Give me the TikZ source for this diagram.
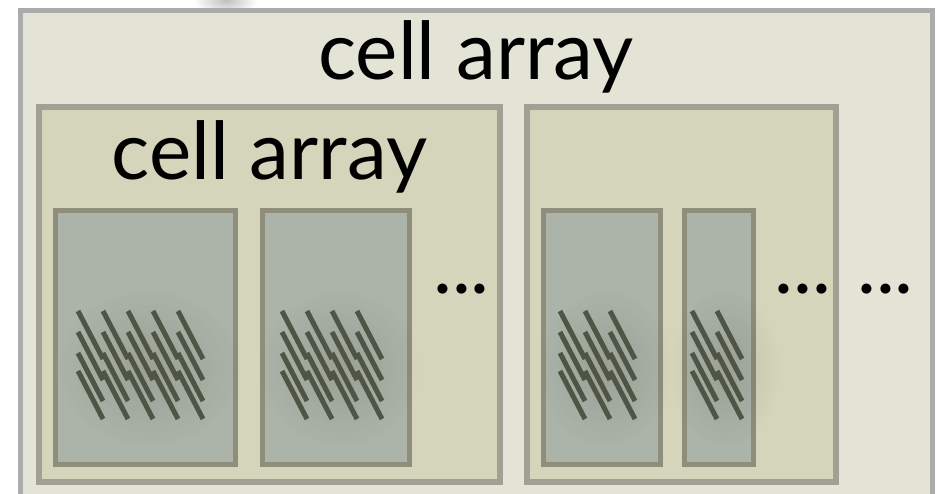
\documentclass[tikz,border=0pt]{standalone}
\usepackage{fontspec}
\setmainfont{Lato}
\usetikzlibrary{positioning,fadings}

\definecolor{shellfill}{HTML}{E3E4D5}
\definecolor{shelldraw}{HTML}{ABABAB}
\definecolor{arrayfill}{HTML}{D5D5BB}
\definecolor{arraydraw}{HTML}{A0A094}
\definecolor{cellfill}{HTML}{ACB3A8}
\definecolor{celldraw}{HTML}{8E8E7A}
\definecolor{fibregray}{HTML}{4E5545}

\tikzfading[name=softspot, inner color=transparent!0, outer color=transparent!100]

\begin{document}
\begin{tikzpicture}[
    x=1pt, y=-1pt,
    every node/.style={font=\fontsize{80}{96}\selectfont, inner sep=0pt},
    shell/.style={
        draw=shelldraw, fill=shellfill, line width=5pt,
        minimum width=912pt, minimum height=509pt
    },
    arraybox/.style={
        draw=arraydraw, fill=arrayfill, line width=5.5pt,
        minimum width=#1, minimum height=375pt
    },
    cellbox/.style={
        draw=celldraw, fill=cellfill, line width=5pt,
        minimum width=#1, minimum height=253pt
    },
    fibre/.style={draw=fibregray, line width=5pt},
    halo/.style={fill=black, opacity=#1, path fading=softspot},
]
\useasboundingbox (0,0) rectangle (937,494);
\clip (0,0) rectangle (937,494);

% === Outer cell array ===
\fill[halo=0.25] (226,0) ellipse [x radius=32, y radius=16];
\node[shell] (outer) at (476,265.5) {};
\node[anchor=base] (outertitle) at (476,80) {cell array};

% === Nested cell arrays ===
\node[arraybox=461pt] (leftarray) at (269.5,294.5) {};
\node[arraybox=309pt] (rightarray) at (681.5,294.5) {};
\node[anchor=base] (innertitle) at (269.5,180) {cell array};

% Cells
\node[cellbox=180.5pt] (cellA) at (145.25,337.5) {};
\node[cellbox=147.5pt] (cellB) at (335.75,337.5) {};
\node[cellbox=117pt] (cellC) at (601.5,337.5) {};
\node[cellbox=69.5pt] (cellD) at (718.75,337.5) {};

% Ellipses for the remaining cells
\node[anchor=base] (moreleft) at (461.5,294) {...};
\node[anchor=base] (moreright) at (803,294) {...};
\node[anchor=base] (moreouter) at (885.5,294) {...};

% === Fibre bundles: four strands per column ===
\foreach \x/\n in {78/5, 282/4, 560/3, 692/2} {
    \fill[halo=0.1] ({\x+12.5*\n+8},368) ellipse [x radius={12.5*\n+30}, y radius=80];
    \foreach \c in {1,...,\n}
        \foreach \y in {311,332,353,371}
            \draw[fibre] ({\x+25*(\c-1)},\y) -- ++(25,48);
}

\end{tikzpicture}
\end{document}
